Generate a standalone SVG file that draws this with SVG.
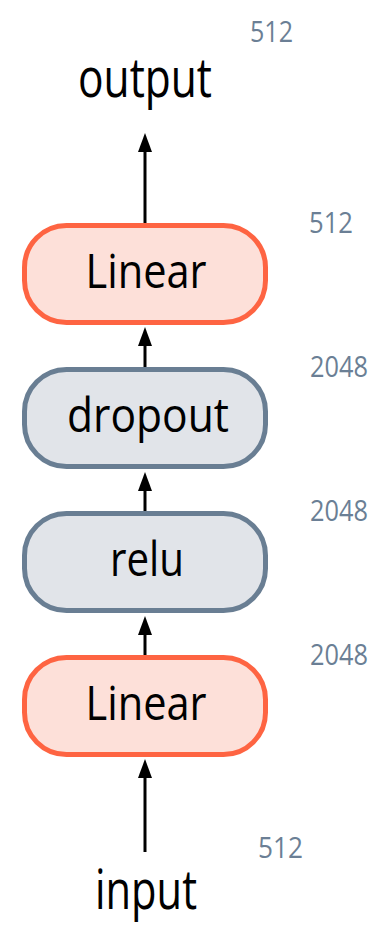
<svg xmlns="http://www.w3.org/2000/svg" width="379" height="925" viewBox="0 0 379 925">
  <style>
    .lin rect { fill: #fde0d9; stroke: #fe6442; stroke-width: 5; }
    .act rect { fill: #e1e4e9; stroke: #697e93; stroke-width: 5; }
    .lbl { font-family: "Open Sans", "Noto Sans", sans-serif; font-size: 48px; fill: #000; text-anchor: middle; }
    .io { font-family: "Open Sans", "Noto Sans", sans-serif; font-size: 54px; fill: #000; text-anchor: middle; }
    .dim { font-family: "Open Sans", "Noto Sans", sans-serif; font-size: 30px; fill: #6b7f95; }
    .conn line { stroke: #000; stroke-width: 3; fill: none; }
  </style>
  <defs>
    <marker id="ah" markerUnits="userSpaceOnUse" markerWidth="19" markerHeight="14" refX="9" refY="7" orient="auto">
      <path d="M0,0 L19,7 L0,14 z" fill="#000"/>
    </marker>
  </defs>

  <g id="connectors" class="conn">
    <line x1="145" y1="226" x2="145" y2="143" marker-end="url(#ah)"/>
    <line x1="145" y1="370" x2="145" y2="337" marker-end="url(#ah)"/>
    <line x1="145" y1="514" x2="145" y2="482" marker-end="url(#ah)"/>
    <line x1="145" y1="658" x2="145" y2="626" marker-end="url(#ah)"/>
    <line x1="145" y1="852" x2="145" y2="769" marker-end="url(#ah)"/>
  </g>

  <g id="output">
    <text class="io" x="145" y="97" textLength="134" lengthAdjust="spacingAndGlyphs">output</text>
  </g>

  <g id="linear2" class="lin">
    <rect x="24.5" y="225.5" width="241" height="97" rx="42" ry="42"/>
    <text class="lbl" x="146" y="288" textLength="121" lengthAdjust="spacingAndGlyphs">Linear</text>
  </g>

  <g id="dropout" class="act">
    <rect x="24.5" y="369.5" width="241" height="97" rx="42" ry="42"/>
    <text class="lbl" x="148" y="432" textLength="162" lengthAdjust="spacingAndGlyphs">dropout</text>
  </g>

  <g id="relu" class="act">
    <rect x="24.5" y="513.5" width="241" height="97" rx="42" ry="42"/>
    <text class="lbl" x="147" y="576" textLength="74" lengthAdjust="spacingAndGlyphs">relu</text>
  </g>

  <g id="linear1" class="lin">
    <rect x="24.5" y="657.5" width="241" height="97" rx="42" ry="42"/>
    <text class="lbl" x="146" y="720" textLength="121" lengthAdjust="spacingAndGlyphs">Linear</text>
  </g>

  <g id="input">
    <text class="io" x="146" y="909" textLength="102" lengthAdjust="spacingAndGlyphs">input</text>
  </g>

  <g id="dims">
    <text class="dim" x="250" y="42" textLength="43" lengthAdjust="spacingAndGlyphs">512</text>
    <text class="dim" x="309" y="233" textLength="44" lengthAdjust="spacingAndGlyphs">512</text>
    <text class="dim" x="310" y="377" textLength="58" lengthAdjust="spacingAndGlyphs">2048</text>
    <text class="dim" x="310" y="521" textLength="58" lengthAdjust="spacingAndGlyphs">2048</text>
    <text class="dim" x="310" y="665" textLength="58" lengthAdjust="spacingAndGlyphs">2048</text>
    <text class="dim" x="258" y="858" textLength="45" lengthAdjust="spacingAndGlyphs">512</text>
  </g>
</svg>
